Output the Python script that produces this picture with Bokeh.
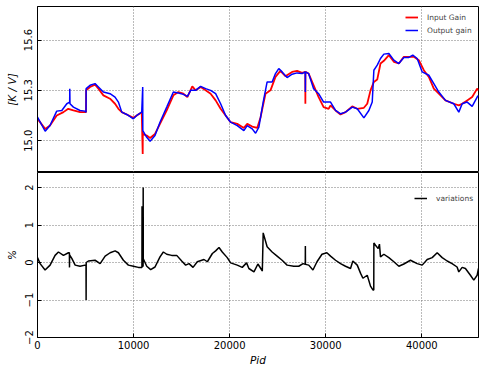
from bokeh.plotting import figure
from bokeh.layouts import column
from bokeh.models import Range1d, FixedTicker, Legend, LegendItem, CustomJSTickFormatter, NumeralTickFormatter
from bokeh.embed import file_html
from bokeh.resources import INLINE

# ---- data ----
pid_out = [0, 800, 1300, 2000, 2530, 3050, 3350, 3360, 3380, 3740, 4430, 4950, 5050, 5060, 5470, 5990,
           6340, 6860, 7550, 8070, 8420, 8770, 9290, 9980, 10330, 10850, 10950, 10960, 11370, 11720,
           12230, 12750, 13450, 14140, 14660, 15180, 15600, 15940, 16460, 16980, 17500, 18020, 18540,
           19060, 19580, 20100, 20790, 21480, 21830, 22350, 22700, 23040, 23490, 23900, 24420, 24770,
           25110, 25460, 25980, 26500, 27020, 27540, 27870, 27880, 27890, 28220, 28740, 29260, 29780,
           30500, 31020, 31540, 32060, 32760, 33280, 33970, 34490, 34840, 35010, 35360, 35700, 36050,
           36570, 37090, 37610, 38130, 38650, 39060, 39520, 40040, 40730, 41250, 41770, 42460, 43330,
           43850, 44200, 44720, 45240, 45760, 45900]
output_gain = [15.14, 15.056, 15.09, 15.176, 15.18, 15.22, 15.23, 15.31, 15.22, 15.20, 15.18, 15.176, 15.17,
               15.31, 15.33, 15.34, 15.32, 15.29, 15.28, 15.26, 15.23, 15.17, 15.156, 15.13, 15.15, 15.17,
               15.32, 15.06, 15.02, 14.996, 15.03, 15.11, 15.20, 15.29, 15.284, 15.276, 15.264, 15.30,
               15.30, 15.324, 15.31, 15.30, 15.28, 15.22, 15.15, 15.11, 15.09, 15.06, 15.09, 15.07, 15.044,
               15.08, 15.23, 15.35, 15.35, 15.40, 15.43, 15.41, 15.376, 15.396, 15.404, 15.40, 15.41,
               15.29, 15.41, 15.40, 15.31, 15.28, 15.23, 15.23, 15.18, 15.16, 15.17, 15.20, 15.19, 15.136,
               15.18, 15.23, 15.42, 15.45, 15.49, 15.516, 15.52, 15.48, 15.46, 15.496, 15.496, 15.51,
               15.49, 15.41, 15.39, 15.34, 15.29, 15.24, 15.22, 15.17, 15.22, 15.23, 15.204, 15.26, 15.27]

pid_in = [0, 800, 1300, 2000, 2700, 3200, 3740, 4430, 4950, 5050, 5060, 5470, 5990, 6340, 6860, 7550,
          8070, 8420, 8770, 9290, 9980, 10330, 10850, 10950, 10960, 11370, 11720, 12230, 12750, 13450,
          14140, 14660, 15180, 15600, 16110, 16460, 16980, 17500, 18020, 18540, 19060, 19580, 20100,
          20790, 21480, 21830, 22350, 22870, 23220, 23730, 24250, 24770, 25280, 25800, 26500, 27020,
          27540, 27870, 27880, 27890, 28220, 28740, 29260, 29780, 30300, 30500, 31020, 31540, 32060,
          32760, 33280, 33970, 34320, 34660, 35010, 35360, 35700, 36050, 36570, 37090, 37610, 38130,
          38650, 39170, 39690, 40210, 40730, 41250, 41770, 42460, 43330, 43850, 44200, 44720, 45240,
          45760, 45900]
input_gain = [15.13, 15.07, 15.09, 15.15, 15.17, 15.19, 15.18, 15.17, 15.17, 15.17, 15.30, 15.32, 15.334,
              15.31, 15.27, 15.25, 15.22, 15.19, 15.17, 15.156, 15.136, 15.15, 15.17, 14.92, 15.04, 15.03,
              15.016, 15.04, 15.10, 15.18, 15.27, 15.29, 15.28, 15.26, 15.324, 15.30, 15.32, 15.30, 15.28,
              15.24, 15.19, 15.15, 15.11, 15.10, 15.076, 15.10, 15.084, 15.076, 15.14, 15.28, 15.30, 15.38,
              15.416, 15.384, 15.41, 15.416, 15.404, 15.41, 15.22, 15.41, 15.40, 15.33, 15.26, 15.20,
              15.19, 15.21, 15.18, 15.156, 15.17, 15.204, 15.19, 15.196, 15.22, 15.30, 15.35, 15.364,
              15.46, 15.476, 15.51, 15.47, 15.46, 15.50, 15.50, 15.50, 15.48, 15.42, 15.38, 15.31, 15.28,
              15.24, 15.22, 15.21, 15.22, 15.24, 15.26, 15.31, 15.30]

pid_var = [0, 270, 790, 1310, 1830, 2180, 2700, 3220, 3320, 3330, 3340, 3570, 3920, 4430, 4950, 5050,
           5060, 5070, 5300, 5990, 6520, 7040, 7560, 8080, 8420, 8940, 9460, 9980, 10500, 10870, 10880,
           10890, 10990, 11000, 11010, 11370, 11780, 12230, 12750, 13100, 13450, 13970, 14490, 15010,
           15420, 15770, 16190, 16630, 17330, 17680, 18200, 18540, 18890, 19230, 19750, 20100, 20790,
           21310, 21760, 22000, 22530, 22940, 23390, 23400, 23490, 23900, 24420, 24940, 25460, 25980,
           26670, 27190, 27640, 27870, 27880, 27890, 28230, 28670, 29090, 29610, 30120, 30500, 31020,
           31540, 32060, 32580, 32820, 33280, 33630, 33870, 34320, 34660, 34910, 35000, 35010, 35180,
           35460, 35590, 35700, 36050, 36570, 37090, 37610, 38130, 38820, 39520, 40040, 40560, 41080,
           41600, 42120, 42640, 43150, 43670, 43850, 44200, 44540, 45060, 45410, 45760, 45900]
variations = [0.13, -0.03, -0.20, -0.07, 0.19, 0.28, 0.19, 0.26, 0.26, -0.13, 0.20, 0.11, -0.07, -0.10,
              -0.07, -0.07, -1.0, 0.0, 0.04, 0.06, -0.03, 0.17, 0.26, 0.31, 0.26, 0.06, -0.07, -0.10,
              -0.13, -0.13, 1.5, -0.10, -0.10, 2.0, 0.10, -0.10, -0.19, -0.12, 0.15, 0.28, 0.22, 0.19,
              0.19, 0.04, -0.07, -0.03, -0.13, 0.02, 0.08, 0.02, 0.24, 0.31, 0.40, 0.28, 0.13, -0.01,
              -0.07, -0.13, -0.01, -0.16, -0.25, -0.04, -0.22, -0.22, 0.79, 0.42, 0.28, 0.17, 0.06, -0.07,
              -0.10, -0.10, -0.03, -0.05, 0.44, -0.05, -0.07, -0.20, 0.02, 0.22, 0.26, 0.17, 0.06, -0.03,
              -0.10, -0.16, 0.04, -0.07, -0.29, -0.42, -0.34, -0.63, -0.73, -0.73, 0.52, 0.46, 0.37, 0.49,
              0.15, 0.22, 0.13, 0.02, -0.10, -0.04, 0.06, -0.03, -0.07, 0.08, 0.13, 0.26, 0.13, 0.04,
              -0.03, -0.12, -0.25, -0.13, -0.16, -0.34, -0.47, -0.34, -0.16]

x_ticks = [0, 10000, 20000, 30000, 40000]
gain_ticks = [15.0, 15.3, 15.6]
var_ticks = [-2, -1, 0, 1, 2]

FONT = "DejaVu Sans"


def style(p):
    p.outline_line_color = "black"
    p.outline_line_width = 1
    p.background_fill_color = "white"
    for ax in p.axis:
        ax.major_tick_in = 4
        ax.major_tick_out = 0
        ax.minor_tick_in = 0
        ax.minor_tick_out = 0
        ax.axis_line_color = "black"
        ax.major_label_text_font = FONT
        ax.major_label_text_font_size = "10px"
        ax.major_label_text_color = "black"
        ax.axis_label_text_font = FONT
        ax.axis_label_text_font_size = "10.5px"
        ax.axis_label_text_color = "black"
    for g in p.grid:
        g.grid_line_color = "#777777"
        g.grid_line_dash = "1 2"
        g.grid_line_width = 1


x_range = Range1d(0, 45900)

p1 = figure(width=480, height=172, output_backend="svg", toolbar_location=None,
            x_range=x_range, y_range=Range1d(14.81, 15.80),
            min_border_left=37, min_border_right=2, min_border_top=6, min_border_bottom=0)
r_in = p1.line(pid_in, input_gain, line_color="#ff0000", line_width=1.8)
r_out = p1.line(pid_out, output_gain, line_color="#0000ff", line_width=1.5)
p1.xaxis.ticker = FixedTicker(ticks=x_ticks)
p1.yaxis.ticker = FixedTicker(ticks=gain_ticks)
p1.yaxis.formatter = NumeralTickFormatter(format="0.0")
p1.yaxis.major_label_orientation = "vertical"
p1.yaxis.axis_label = "[K / V]"
p1.yaxis.axis_label_text_font_style = "italic"
style(p1)
p1.yaxis.major_label_standoff = 5
p1.yaxis.axis_label_standoff = 4
p1.xaxis.visible = False

leg1 = Legend(items=[LegendItem(label="Input Gain", renderers=[r_in]),
                     LegendItem(label="Output gain", renderers=[r_out])],
              location=(366, 134), padding=2, margin=0, spacing=1,
              label_height=12, glyph_height=12, glyph_width=13, label_standoff=9,
              label_text_font=FONT, label_text_font_size="7.5px",
              border_line_alpha=0, background_fill_alpha=0)
p1.add_layout(leg1)

p2 = figure(width=480, height=196, output_backend="svg", toolbar_location=None,
            x_range=x_range, y_range=Range1d(-2, 2.4),
            min_border_left=37, min_border_right=2, min_border_top=0)
r_var = p2.line(pid_var, variations, line_color="black", line_width=1.5)
p2.xaxis.ticker = FixedTicker(ticks=x_ticks)
p2.yaxis.ticker = FixedTicker(ticks=var_ticks)
p2.yaxis.formatter = CustomJSTickFormatter(
    code="return tick < 0 ? '\u2212' + Math.abs(tick).toFixed(0) : tick.toFixed(0);")
p2.yaxis.major_label_orientation = "vertical"
p2.yaxis.axis_label = "%"
p2.xaxis.axis_label = "Pid"
style(p2)
p2.xaxis.axis_label_text_font_style = "italic"
p2.yaxis.major_label_standoff = 5
p2.yaxis.axis_label_standoff = 4
p2.xaxis.major_label_standoff = 3
p2.xaxis.axis_label_standoff = 2

leg2 = Legend(items=[LegendItem(label="variations", renderers=[r_var])],
              location=(375, 131), padding=2, margin=0, spacing=1,
              label_height=12, glyph_height=12, glyph_width=13, label_standoff=9,
              label_text_font=FONT, label_text_font_size="7.5px",
              border_line_alpha=0, background_fill_alpha=0)
p2.add_layout(leg2)

layout = column(p1, p2, spacing=0)
open("out.html", "w").write(file_html(layout, INLINE))
